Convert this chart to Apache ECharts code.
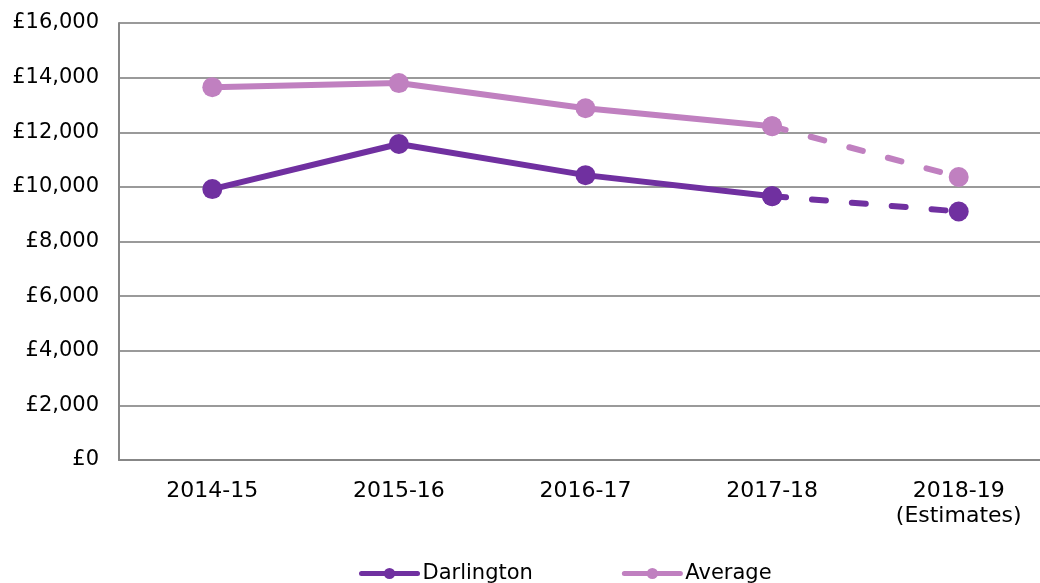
<!DOCTYPE html>
<html>
<head>
<meta charset="utf-8">
<script src="https://cdn.jsdelivr.net/npm/echarts@6/dist/echarts.min.js"></script>
<style>
    html, body { margin: 0; padding: 0; background: #fff; }
    #main { width: 1040px; height: 583px; }
</style>
</head>
<body>
<div id="main"></div>
<script>
    // data
    var years = ['2014-15', '2015-16', '2016-17', '2017-18', '2018-19\n(Estimates)'];
    var darlington = [9920, 11570, 10430, 9660, 9100];
    var average = [13650, 13800, 12880, 12220, 10360];
    var actualCount = 4; // last point is an estimate (dashed)

    var darlingtonColor = '#7030A0';
    var averageColor = '#C080C0';

    function solidPart(arr) {
        return arr.map(function (v, i) { return i < actualCount ? v : null; });
    }
    function dashedPart(arr) {
        return arr.map(function (v, i) { return i >= actualCount - 1 ? v : null; });
    }

    var chart = echarts.init(document.getElementById('main'));
    var font = 'DejaVu Sans, Verdana, sans-serif';

    function lineSeries(name, data, color, dashed) {
        return {
            name: name,
            type: 'line',
            data: data,
            symbol: 'circle',
            symbolSize: 20,
            showSymbol: true,
            connectNulls: false,
            animation: false,
            itemStyle: { color: color },
            lineStyle: { color: color, width: 6, type: dashed ? [14, 26] : 'solid', cap: 'round' },
            z: dashed ? 2 : 3
        };
    }

    var option = {
        animation: false,
        textStyle: { fontFamily: font },
        grid: { left: 119, right: -12, top: 23, bottom: 123, outerBoundsMode: 'none' },
        legend: {
            top: 558,
            left: 354,
            itemWidth: 56,
            itemHeight: 14,
            itemGap: 89,
            lineStyle: { width: 5 },
            textStyle: { fontSize: 21, color: '#000', fontFamily: font },
            data: ['Darlington', 'Average']
        },
        xAxis: {
            type: 'category',
            data: years,
            axisLine: { lineStyle: { color: '#878787', width: 2 } },
            axisTick: { show: false },
            axisLabel: { fontSize: 22, color: '#000', margin: 19, lineHeight: 25, fontFamily: font }
        },
        yAxis: {
            type: 'value',
            min: 0,
            max: 16000,
            interval: 2000,
            axisLine: { show: true, lineStyle: { color: '#878787', width: 2 } },
            axisTick: { show: false },
            splitLine: { lineStyle: { color: '#9a9a9a', width: 2 } },
            axisLabel: {
                fontSize: 21, color: '#000', margin: 20, fontFamily: font,
                formatter: function (v) { return '£' + v.toLocaleString('en-GB'); }
            }
        },
        series: [
            lineSeries('Darlington', solidPart(darlington), darlingtonColor, false),
            lineSeries('Average', solidPart(average), averageColor, false),
            lineSeries('Darlington', dashedPart(darlington), darlingtonColor, true),
            lineSeries('Average', dashedPart(average), averageColor, true)
        ]
    };
    chart.setOption(option);
</script>
</body>
</html>
